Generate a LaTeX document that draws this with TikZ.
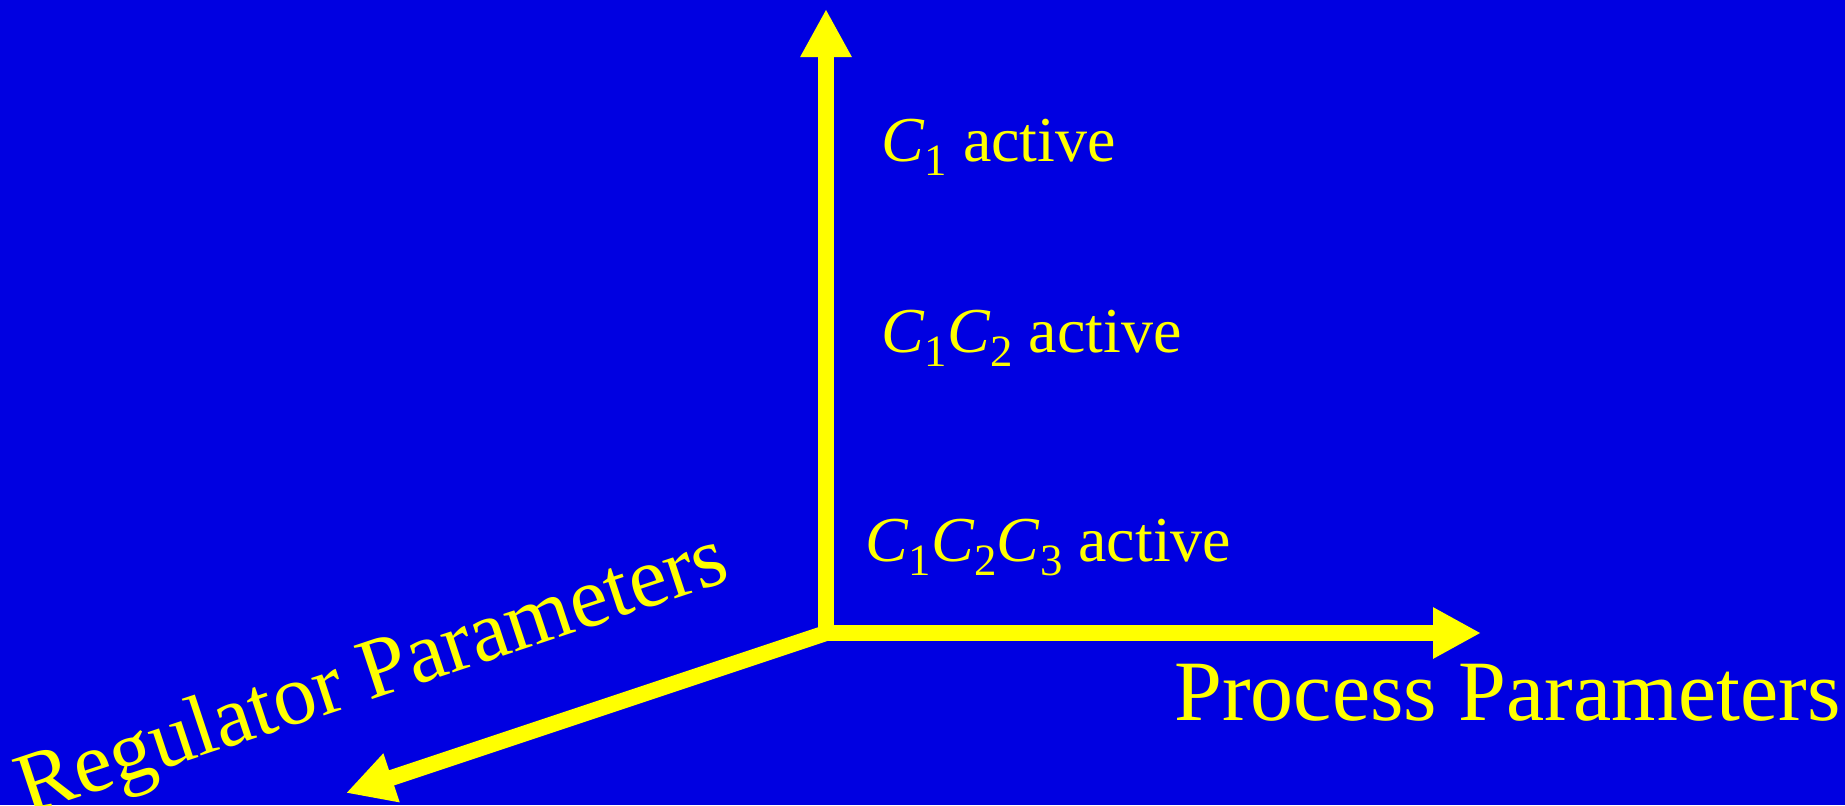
\documentclass[tikz,border=0pt]{standalone}
\usepackage{fontspec}
\usepackage{graphicx}
\setmainfont{Liberation Serif}
\usetikzlibrary{arrows.meta}
\definecolor{bgblue}{RGB}{0,0,225}
\definecolor{axyellow}{RGB}{255,255,0}
\newcommand{\Csub}[1]{\textit{C}\raisebox{-0.23em}{\scalebox{0.7}{#1}}}
\begin{document}
\begin{tikzpicture}[x=0.5pt,y=-0.5pt,
  axis/.style={draw=axyellow,line width=8pt,-{Triangle[length=24pt,width=24pt]}},
  lbl/.style={text=axyellow,inner sep=0pt,font=\fontsize{32}{38}\selectfont},
  biglbl/.style={text=axyellow,inner sep=0pt,font=\fontsize{43}{50}\selectfont}]
\fill[bgblue] (0,0) rectangle (1845,805);
\useasboundingbox (0,0) rectangle (1845,805);
\coordinate (O) at (826,633);
\coordinate (up) at (826,9);
\coordinate (right) at (1481,633);
\coordinate (left) at (346,793);
\draw[axis] (O) -- (up);
\draw[axis] (O) -- (right);
\draw[axis] (O) -- (left);
\fill[axyellow] (818,625) rectangle (834,641);
\node[lbl,anchor=base west] (c1) at (881,161) {\Csub{1} active};
\node[lbl,anchor=base west] (c12) at (881,352) {\Csub{1}\Csub{2} active};
\node[lbl,anchor=base west] (c123) at (865,561) {\Csub{1}\Csub{2}\Csub{3} active};
\node[biglbl,anchor=base west] (pp) at (1174,720) {Process Parameters};
\node[biglbl,anchor=base,rotate=18.4] (rp) at (380,697) {Regulator Parameters};
\end{tikzpicture}
\end{document}
